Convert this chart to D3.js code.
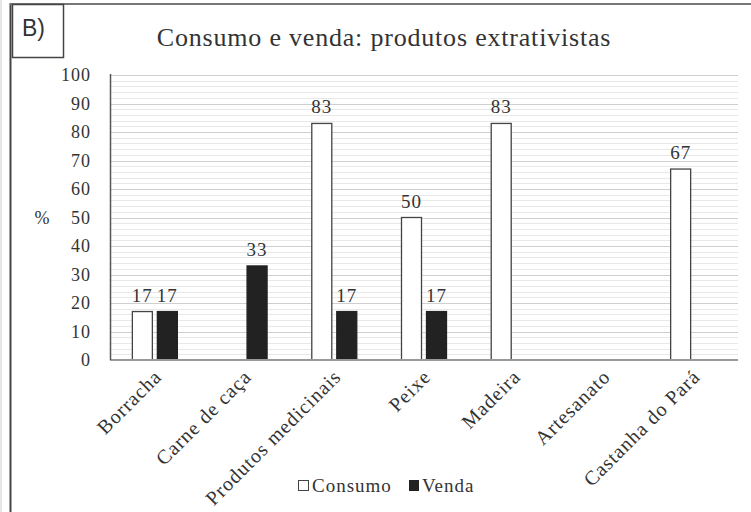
<!DOCTYPE html>
<html>
<head>
<meta charset="utf-8">
<script src="https://cdn.jsdelivr.net/npm/d3@7"></script>
<style>
  body { margin: 0; background: #fff; }
  svg text { font-family: "Liberation Serif", "DejaVu Serif", serif; fill: #333; }
</style>
</head>
<body>
<div id="chart"></div>
<script>
// chart data
var categories = ["Borracha", "Carne de caça", "Produtos medicinais", "Peixe", "Madeira", "Artesanato", "Castanha do Pará"];
var consumo = [17, 0, 83, 50, 83, 0, 67];
var venda = [17, 33, 17, 17, 0, 0, 0];
var series_names = ["Consumo", "Venda"];
var y_ticks = [0, 10, 20, 30, 40, 50, 60, 70, 80, 90, 100];
var title = "Consumo e venda: produtos extrativistas";

// layout constants
var width = 751,
    height = 512,
    left = 110,
    right = 738,
    top_y = 75,
    bottom_y = 360,
    bar_w = 21,
    bar_gap = 4;

var svg = d3.select("#chart")
  .append("svg")
    .attr("width", width)
    .attr("height", height);

// frame from the scanned page
svg.append("line").attr("x1", 1).attr("x2", 1).attr("y1", 0).attr("y2", height)
    .attr("stroke", "#ccc").attr("stroke-width", 1);
svg.append("line").attr("x1", 10.5).attr("x2", 10.5).attr("y1", 3).attr("y2", height)
    .attr("stroke", "#444").attr("stroke-width", 2);
svg.append("line").attr("x1", 10).attr("x2", width).attr("y1", 4).attr("y2", 4)
    .attr("stroke", "#777").attr("stroke-width", 2);
svg.append("rect").attr("x", 12.5).attr("y", 4.5).attr("width", 51).attr("height", 53)
    .attr("fill", "none").attr("stroke", "#444").attr("stroke-width", 1.5);
svg.append("text").attr("x", 22).attr("y", 36)
    .style("font-family", "'Liberation Sans', Arial, sans-serif")
    .style("font-size", "23px").style("fill", "#333")
    .text("B)");

// scales
var x = d3.scaleBand().domain(categories).range([left, right]);
var y = d3.scaleLinear().domain([0, 100]).range([bottom_y, top_y]);

// grid - minor every 2, major every 10
var minor = d3.range(2, 100, 2).filter(function(v) { return v % 10 != 0; });
svg.selectAll("line.minor")
    .data(minor)
    .enter()
    .append("line")
    .attr("class", "minor")
    .attr("x1", left).attr("x2", right)
    .attr("y1", function(d) { return Math.round(y(d)) + 0.5; })
    .attr("y2", function(d) { return Math.round(y(d)) + 0.5; })
    .attr("stroke", "#e8e8e8");
svg.selectAll("line.major")
    .data(y_ticks.slice(1))
    .enter()
    .append("line")
    .attr("class", "major")
    .attr("x1", left).attr("x2", right)
    .attr("y1", function(d) { return Math.round(y(d)) + 0.5; })
    .attr("y2", function(d) { return Math.round(y(d)) + 0.5; })
    .attr("stroke", "#cfcfcf");

// y tick labels
svg.selectAll("text.ytick")
    .data(y_ticks)
    .enter()
    .append("text")
    .attr("class", "ytick")
    .attr("x", 91)
    .attr("y", function(d) { return y(d) + 6; })
    .attr("text-anchor", "end")
    .style("font-size", "18px")
    .style("letter-spacing", "1px")
    .text(function(d) { return d; });

svg.append("text").attr("x", 42).attr("y", 224)
    .attr("text-anchor", "middle")
    .style("font-size", "18px")
    .text("%");

// bars
var xs = function(i, s) {
    var c = x(categories[i]) + x.bandwidth() / 2;
    return s == 0 ? c - bar_gap / 2 - bar_w : c + bar_gap / 2;
};
var bar_data = [];
for (var i = 0; i < categories.length; i++) {
    bar_data.push({ i: i, s: 0, v: consumo[i] });
    bar_data.push({ i: i, s: 1, v: venda[i] });
}
var shown = bar_data.filter(function(d) { return d.v > 0; });

svg.selectAll("rect.bar")
    .data(shown)
    .enter()
    .append("rect")
    .attr("class", "bar")
    .attr("x", function(d) { return xs(d.i, d.s) + 0.5; })
    .attr("y", function(d) { return y(d.v); })
    .attr("width", bar_w - 1)
    .attr("height", function(d) { return y(0) - y(d.v); })
    .attr("fill", function(d) { return d.s == 0 ? "#fff" : "#222"; })
    .attr("stroke", function(d) { return d.s == 0 ? "#444" : "#222"; })
    .attr("stroke-width", 1.3);

svg.selectAll("text.val")
    .data(shown)
    .enter()
    .append("text")
    .attr("class", "val")
    .attr("x", function(d) { return xs(d.i, d.s) + bar_w / 2; })
    .attr("y", function(d) { return y(d.v) - 10; })
    .attr("text-anchor", "middle")
    .style("font-size", "19px")
    .style("letter-spacing", "1px")
    .text(function(d) { return d.v; });

// axes lines
svg.append("line").attr("x1", left).attr("x2", right).attr("y1", bottom_y).attr("y2", bottom_y)
    .attr("stroke", "#999").attr("stroke-width", 2);
svg.append("line").attr("x1", left + 0.5).attr("x2", left + 0.5).attr("y1", top_y - 1).attr("y2", bottom_y)
    .attr("stroke", "#555").attr("stroke-width", 1.5);

// category labels
svg.selectAll("text.xlab")
    .data(categories)
    .enter()
    .append("text")
    .attr("class", "xlab")
    .attr("transform", function(d) {
        return "translate(" + (x(d) + x.bandwidth() / 2 + 8) + "," + 378 + ") rotate(-45)";
    })
    .attr("text-anchor", "end")
    .style("font-size", "20px")
    .style("letter-spacing", "1px")
    .text(function(d) { return d; });

// title
svg.append("text").attr("x", 384).attr("y", 46)
    .attr("text-anchor", "middle")
    .style("font-size", "26px")
    .style("letter-spacing", "0.8px")
    .text(title);

// legend
var legend = svg.append("g").attr("transform", "translate(298,492)");
legend.append("rect").attr("x", 0.5).attr("y", -11.5).attr("width", 10).attr("height", 10)
    .attr("fill", "#fff").attr("stroke", "#444");
legend.append("text").attr("x", 14).attr("y", 0)
    .style("font-size", "19px").style("letter-spacing", "1px")
    .text(series_names[0]);
legend.append("rect").attr("x", 111).attr("y", -12).attr("width", 10).attr("height", 11)
    .attr("fill", "#222");
legend.append("text").attr("x", 124).attr("y", 0)
    .style("font-size", "19px").style("letter-spacing", "1px")
    .text(series_names[1]);
</script>
</body>
</html>
